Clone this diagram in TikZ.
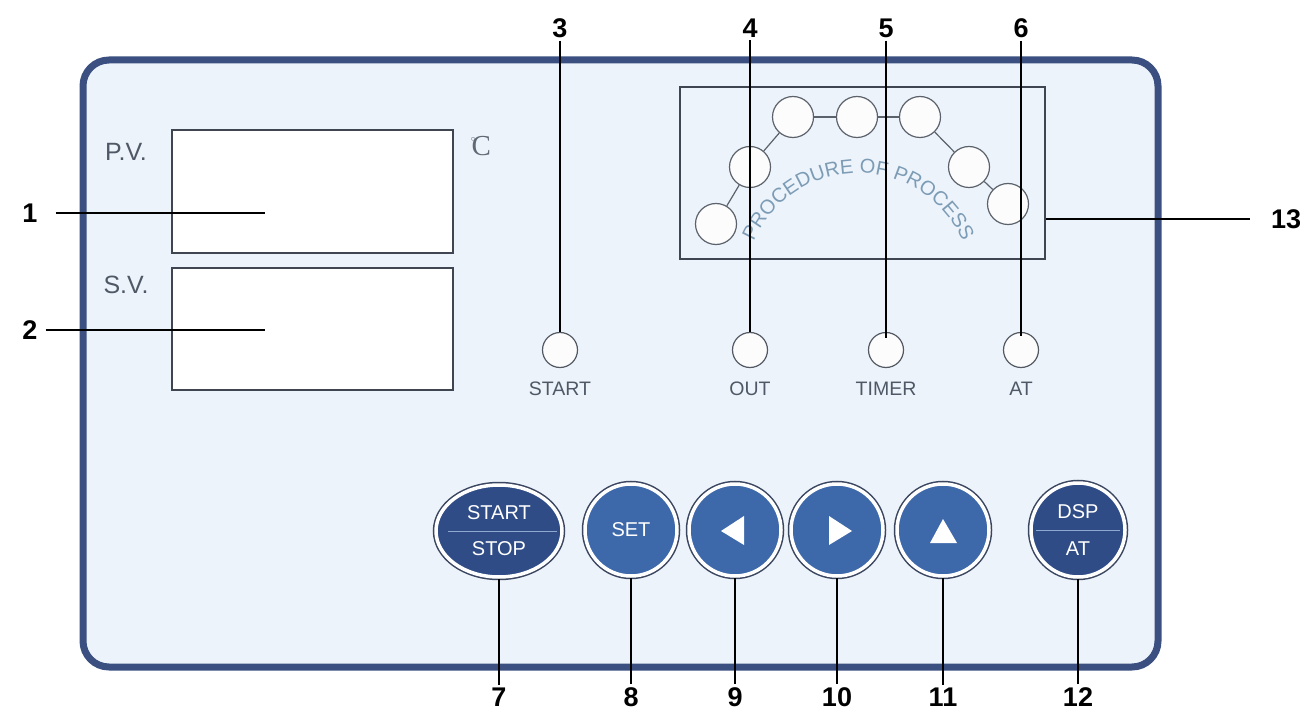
\documentclass[tikz,border=0pt]{standalone}
\usepackage{fontspec}
\setmainfont{Liberation Sans}
\newfontfamily\serifc{Liberation Serif}
\usetikzlibrary{decorations.text,shapes.geometric}
\definecolor{panelbg}{HTML}{EDF3FA}
\definecolor{panelrim}{HTML}{3B5080}
\definecolor{boxline}{HTML}{3F4652}
\definecolor{labgray}{HTML}{4F5866}
\definecolor{btnblue}{HTML}{3D68AA}
\definecolor{btndark}{HTML}{2F4C86}
\definecolor{btnrim}{HTML}{3A4560}
\definecolor{proctext}{HTML}{7C9CB6}
\definecolor{divline}{HTML}{8FA8CF}
\tikzset{
  panelbox/.style={draw=panelrim, line width=7pt, fill=panelbg, rounded corners=26pt, inner sep=0pt},
  display/.style={draw=boxline, line width=1.8pt, fill=white, inner sep=0pt},
  paneltext/.style={text=labgray, font=\fontsize{25}{25}\selectfont},
  indlamp/.style={circle, draw=boxline!90, line width=1.2pt, fill=white!98!gray, minimum size=35pt, inner sep=0pt},
  indtext/.style={text=labgray, font=\fontsize{19.5}{19.5}\selectfont},
  proclamp/.style={circle, draw=boxline!85, line width=1.2pt, fill=white!98!gray, minimum size=41pt, inner sep=0pt},
  procwire/.style={draw=boxline!85, line width=1.2pt},
  numlab/.style={font=\bfseries\fontsize{27}{27}\selectfont, inner sep=3pt},
  leader/.style={draw=black, line width=1.5pt},
  btnbase/.style={draw=white, line width=3.5pt, preaction={draw=btnrim, line width=6.5pt}, inner sep=0pt},
  btn/.style={btnbase, circle, fill=btnblue, minimum size=92pt},
  btntext/.style={text=white, font=\fontsize{20}{20}\selectfont, inner sep=0pt}
}
\begin{document}
\begin{tikzpicture}[x=1pt,y=-1pt]
\useasboundingbox (0,0) rectangle (1314,711);
\fill[white] (0,0) rectangle (1314,711);

% panel
\node[panelbox, minimum width=1075pt, minimum height=607pt] (panel) at (620.5,363.5) {};

% displays
\node[display, minimum width=281pt, minimum height=123pt] (pv) at (312.5,191.5) {};
\node[display, minimum width=281pt, minimum height=122pt] (sv) at (312.5,329) {};
\node[paneltext] (pvlab) at (126,152) {P.V.};
\node[paneltext] (svlab) at (126,285) {S.V.};
\node[text=labgray!90, font=\serifc\fontsize{29}{29}\selectfont, inner sep=0pt] (degc) at (481,146) {\raisebox{0.32em}{\fontsize{13}{13}\selectfont$^\circ$}\kern-0.15em C};

% indicator lamps
\node[indlamp] (i3) at (560,350) {};
\node[indlamp] (i4) at (750,350) {};
\node[indlamp] (i5) at (886,350) {};
\node[indlamp] (i6) at (1021,350) {};
\node[indtext] (t3) at (560,389) {START};
\node[indtext] (t4) at (750,389) {OUT};
\node[indtext] (t5) at (886,389) {TIMER};
\node[indtext] (t6) at (1021,389) {AT};

% procedure box
\node[display, fill=none, minimum width=365pt, minimum height=172pt] (proc) at (862.5,173) {};
\node[proclamp] (pc1) at (716,224) {};
\node[proclamp] (pc2) at (750,167) {};
\node[proclamp] (pc3) at (793,117) {};
\node[proclamp] (pc4) at (857,117) {};
\node[proclamp] (pc5) at (920,117) {};
\node[proclamp] (pc6) at (969,167) {};
\node[proclamp] (pc7) at (1008,204) {};
\draw[procwire] (pc1) -- (pc2);
\draw[procwire] (pc2) -- (pc3);
\draw[procwire] (pc3) -- (pc4);
\draw[procwire] (pc4) -- (pc5);
\draw[procwire] (pc5) -- (pc6);
\draw[procwire] (pc6) -- (pc7);
\path[decorate, decoration={text along path, text align=center,
  text={|\fontsize{20}{20}\selectfont\color{proctext}|PROCEDURE OF PROCESS}}]
  (755,239) arc[start angle=205, end angle=335, radius=114];

% buttons
\node[btnbase, ellipse, fill=btndark, minimum width=126pt, minimum height=92pt] (b7) at (499,531) {};
\node[btn] (b8) at (631,530) {};
\node[btn] (b9) at (735,530) {};
\node[btn] (b10) at (837,530) {};
\node[btn] (b11) at (943,530) {};
\node[btn, fill=btndark, minimum size=94pt] (b12) at (1078,530) {};

\draw[divline, line width=1pt] (448,531) -- (557,531);
\draw[divline, line width=1pt] (1036,530) -- (1120,530);
\node[btntext] (b7a) at (499,513) {START};
\node[btntext] (b7b) at (499,549) {STOP};
\node[btntext] (b8a) at (631,530) {SET};
\node[btntext] (b12a) at (1078,512) {DSP};
\node[btntext] (b12b) at (1078,549) {AT};
\fill[white, shift={(b9.center)}] (-14,1) -- (9,-14) -- (9,15) -- cycle;
\fill[white, shift={(b10.center)}] (15,1) -- (-8,-14) -- (-8,15) -- cycle;
\fill[white, shift={(b11.center)}] (0,-11) -- (14,13) -- (-13,13) -- cycle;

% number labels
\node[numlab] (n1) at (30,213) {1};
\node[numlab] (n2) at (30,330) {2};
\node[numlab] (n3) at (560,28) {3};
\node[numlab] (n4) at (750,28) {4};
\node[numlab] (n5) at (886,28) {5};
\node[numlab] (n6) at (1021,28) {6};
\node[numlab] (n7) at (499,697) {7};
\node[numlab] (n8) at (631,697) {8};
\node[numlab] (n9) at (735,697) {9};
\node[numlab] (n10) at (837,697) {10};
\node[numlab] (n11) at (943,697) {11};
\node[numlab] (n12) at (1078,697) {12};
\node[numlab] (n13) at (1286,219) {13};

\coordinate (e1) at (265,213);
\coordinate (e2) at (265,330);
\coordinate (e13) at (1250,219);

\draw[leader, shorten <=15pt] (n1.east) -- (e1);
\draw[leader, shorten <=5pt] (n2.east) -- (e2);
\draw[leader] (n3.south) -- (i3.north);
\draw[leader] (n4.south) -- (i4.north);
\draw[leader, shorten >=-6pt] (n5.south) -- (i5.north);
\draw[leader, shorten >=-4pt] (n6.south) -- (i6.north);
\draw[leader] (b7.south) -- (b7.south |- n7.north);
\draw[leader] (b8.south) -- (b8.south |- n8.north);
\draw[leader] (b9.south) -- (b9.south |- n9.north);
\draw[leader] (b10.south) -- (b10.south |- n10.north);
\draw[leader] (b11.south) -- (b11.south |- n11.north);
\draw[leader] (b12.south) -- (b12.south |- n12.north);
\draw[leader] (proc.east |- e13) -- (e13);
\end{tikzpicture}
\end{document}
